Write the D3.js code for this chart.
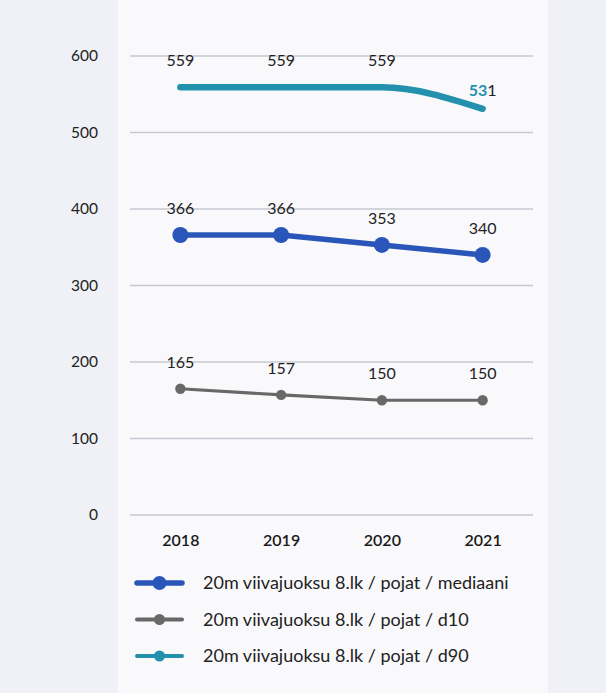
<!DOCTYPE html>
<html><head><meta charset="utf-8">
<script src="https://cdn.jsdelivr.net/npm/d3@7"></script>
<style>html,body{margin:0;padding:0;background:#f4f5f9;}svg{display:block;}</style>
</head><body>
<svg id="chart" width="606" height="693"></svg>
<script>
const years = ["2018", "2019", "2020", "2021"];
const median = [366, 366, 353, 340];
const d10 = [165, 157, 150, 150];
const d90 = [559, 559, 559, 531];
const yTicks = [0, 100, 200, 300, 400, 500, 600];
const seriesNames = [
  "20m viivajuoksu 8.lk / pojat / mediaani",
  "20m viivajuoksu 8.lk / pojat / d10",
  "20m viivajuoksu 8.lk / pojat / d90"
];
const colors = ["#2b56b9", "#686868", "#2391ad"];

const svg = d3.select("#chart");
const font = "Lato, 'Open Sans', sans-serif";

// faint page background
svg.append("rect").attr("x", 0).attr("y", 0).attr("width", 606).attr("height", 693).attr("fill", "#f0f1f6");
svg.append("rect").attr("x", 118).attr("y", 0).attr("width", 430).attr("height", 693).attr("fill", "#f9f9fc");

const x = d3.scalePoint().domain(years).range([130, 533]).padding(0.5);
const y = d3.scaleLinear().domain([0, 600]).range([515, 56]);

// gridlines
svg.append("g").selectAll("line").data(yTicks).join("line")
  .attr("x1", 130).attr("x2", 533)
  .attr("y1", d => y(d)).attr("y2", d => y(d))
  .attr("stroke", "#c6c8d2").attr("stroke-width", 1.3);

// y axis labels
const yAxis = d3.axisLeft(y).tickValues(yTicks).tickSize(0).tickPadding(0);
const gy = svg.append("g").attr("transform", "translate(98,0)").call(yAxis);
gy.select(".domain").remove();
gy.selectAll("text").attr("font-family", font).attr("font-size", 15.5).attr("fill", "#222").attr("dy", "0.32em");

// x axis labels
const xAxis = d3.axisBottom(x).tickSize(0).tickPadding(0);
const gx = svg.append("g").attr("transform", "translate(0,535)").call(xAxis);
gx.select(".domain").remove();
gx.selectAll("text").attr("font-family", font).attr("font-size", 16).attr("font-weight", 600).attr("fill", "#1a1a1a").attr("dy", "0.71em");

const line = d3.line().x((d, i) => x(years[i])).y(d => y(d));
const smooth = d3.line().x((d, i) => x(years[i])).y(d => y(d)).curve(d3.curveMonotoneX);

// d90
svg.append("path").attr("d", smooth(d90)).attr("fill", "none")
  .attr("stroke", colors[2]).attr("stroke-width", 6.5).attr("stroke-linecap", "round");
// median
svg.append("path").attr("d", line(median)).attr("fill", "none")
  .attr("stroke", colors[0]).attr("stroke-width", 5.5);
svg.append("g").selectAll("circle").data(median).join("circle")
  .attr("cx", (d, i) => x(years[i])).attr("cy", d => y(d)).attr("r", 8).attr("fill", colors[0]);
// d10
svg.append("path").attr("d", line(d10)).attr("fill", "none")
  .attr("stroke", colors[1]).attr("stroke-width", 3.2);
svg.append("g").selectAll("circle").data(d10).join("circle")
  .attr("cx", (d, i) => x(years[i])).attr("cy", d => y(d)).attr("r", 5.2).attr("fill", colors[1]);

// data labels
function labels(data, off) {
  svg.append("g").selectAll("text").data(data).join("text")
    .attr("x", (d, i) => x(years[i])).attr("y", d => y(d) - off)
    .attr("text-anchor", "middle").attr("font-family", font).attr("font-size", 16).attr("fill", "#222")
    .text(d => d);
}
labels(median, 21);
labels(d10, 21);
// d90 labels
svg.append("g").selectAll("text").data(d90).join("text")
  .attr("x", (d, i) => x(years[i])).attr("y", (d, i) => i < 3 ? y(d) - 21 : y(d) - 13)
  .attr("text-anchor", "middle").attr("font-family", font).attr("font-size", 16).attr("fill", "#222")
  .each(function(d, i) {
    const t = d3.select(this);
    if (i === 3) {
      const s = String(d);
      t.append("tspan").attr("fill", colors[2]).attr("font-weight", 700).text(s.slice(0, 2));
      t.append("tspan").text(s.slice(2));
    } else t.text(d);
  });

// legend
const lg = svg.append("g");
seriesNames.forEach((name, i) => {
  const yy = 583 + i * 36.5;
  const g = lg.append("g");
  g.append("line").attr("x1", 137).attr("x2", 182).attr("y1", yy).attr("y2", yy)
    .attr("stroke", colors[i]).attr("stroke-width", i === 0 ? 5.5 : 4).attr("stroke-linecap", "round");
  g.append("circle").attr("cx", 159.5).attr("cy", yy).attr("r", i === 0 ? 7 : 5.5).attr("fill", colors[i]);
  g.append("text").attr("x", 203).attr("y", yy).attr("dy", "0.35em")
    .attr("font-family", font).attr("font-size", 18).attr("fill", "#222").text(name);
});
</script>
</body></html>
